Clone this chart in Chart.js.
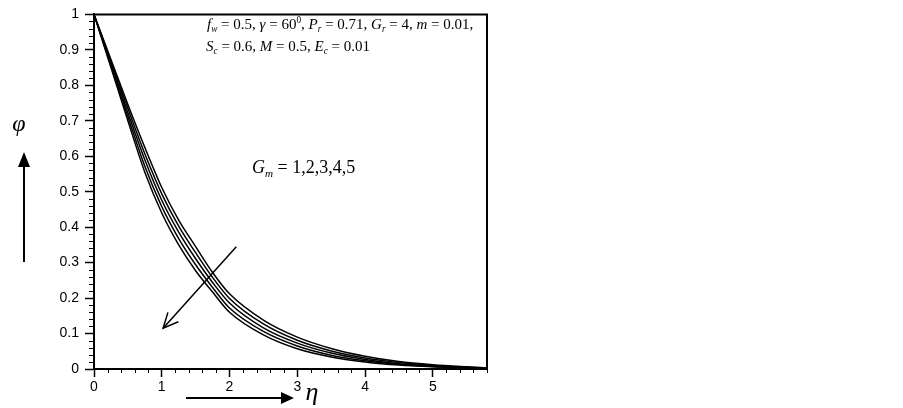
<!DOCTYPE html>
<html>
<head>
<meta charset="utf-8">
<script src="https://cdn.jsdelivr.net/npm/chart.js@4.4.0/dist/chart.umd.min.js"></script>
<style>
  html, body { margin: 0; padding: 0; background: #fff; }
  canvas { display: block; }
</style>
</head>
<body>
<canvas id="myChart" width="903" height="408"></canvas>
<script>
// eta values (x axis) and concentration profiles phi for Gm = 1..5
const eta = [0, 0.25, 0.5, 0.75, 1, 1.25, 1.5, 1.75, 2, 2.5, 3, 3.5, 4, 4.5, 5, 5.5, 5.8];
const phiGm1 = [1, 0.873, 0.746, 0.625, 0.512, 0.42, 0.345, 0.272, 0.212, 0.138, 0.09, 0.058, 0.036, 0.021, 0.012, 0.006, 0.003];
const phiGm2 = [1, 0.867, 0.735, 0.607, 0.494, 0.403, 0.328, 0.258, 0.199, 0.127, 0.081, 0.051, 0.031, 0.018, 0.01, 0.005, 0.002];
const phiGm3 = [1, 0.862, 0.723, 0.59, 0.476, 0.386, 0.311, 0.244, 0.186, 0.116, 0.073, 0.045, 0.027, 0.015, 0.008, 0.004, 0.002];
const phiGm4 = [1, 0.856, 0.712, 0.572, 0.458, 0.368, 0.294, 0.23, 0.172, 0.106, 0.065, 0.039, 0.023, 0.013, 0.007, 0.003, 0.001];
const phiGm5 = [1, 0.85, 0.7, 0.555, 0.44, 0.35, 0.277, 0.217, 0.16, 0.096, 0.057, 0.034, 0.02, 0.011, 0.006, 0.003, 0.001];
const gmValues = ["1", "2", "3", "4", "5"];

const SERIF = '"Liberation Serif", "DejaVu Serif", serif';
const SANS = '"Liberation Sans", Arial, sans-serif';

// draw text with italic / subscript / superscript pieces
function drawRich(ctx, x, y, parts, size) {
  let cx = x;
  parts.forEach(([t, s]) => {
    let f = size, dy = 0, style = "";
    if (s === "i") style = "italic ";
    if (s === "sub") { f = size * 0.62; dy = size * 0.22; style = "italic "; }
    if (s === "sup") { f = size * 0.62; dy = -size * 0.42; }
    ctx.font = style + f + "px " + SERIF;
    ctx.fillText(t, cx, y + dy);
    cx += ctx.measureText(t).width;
  });
}

function arrowHead(ctx, x1, y1, x2, y2, len, half, filled) {
  const a = Math.atan2(y2 - y1, x2 - x1);
  const p1 = [x2 - len * Math.cos(a) + half * Math.sin(a), y2 - len * Math.sin(a) - half * Math.cos(a)];
  const p2 = [x2 - len * Math.cos(a) - half * Math.sin(a), y2 - len * Math.sin(a) + half * Math.cos(a)];
  ctx.beginPath();
  if (filled) {
    ctx.moveTo(x2, y2); ctx.lineTo(p1[0], p1[1]); ctx.lineTo(p2[0], p2[1]); ctx.closePath(); ctx.fill();
  } else {
    ctx.moveTo(p1[0], p1[1]); ctx.lineTo(x2, y2); ctx.lineTo(p2[0], p2[1]); ctx.stroke();
  }
}

const decorations = {
  id: "decorations",
  afterDraw(chart) {
    const ctx = chart.ctx;
    const xs = chart.scales.x, ys = chart.scales.y;
    const a = chart.chartArea;
    ctx.save();
    ctx.strokeStyle = "#000";
    ctx.fillStyle = "#000";

    // frame (top + right)
    ctx.lineWidth = 2;
    ctx.beginPath();
    ctx.moveTo(a.left, a.top); ctx.lineTo(a.right, a.top); ctx.lineTo(a.right, a.bottom);
    ctx.stroke();

    // minor ticks
    ctx.lineWidth = 1;
    ctx.beginPath();
    for (let i = 0; i <= 50; i++) {
      if (i % 5 === 0) continue;
      const py = Math.round(ys.getPixelForValue(i / 50)) + 0.5;
      ctx.moveTo(a.left - 5, py); ctx.lineTo(a.left, py);
    }
    for (let i = 0; i <= 29; i++) {
      if (i % 5 === 0) continue;
      const px = Math.round(xs.getPixelForValue(i / 5)) + 0.5;
      ctx.moveTo(px, a.bottom); ctx.lineTo(px, a.bottom + 4);
    }
    ctx.stroke();

    // parameter text
    ctx.textBaseline = "alphabetic";
    ctx.textAlign = "left";
    drawRich(ctx, 207, 29, [["f", "i"], ["w", "sub"], [" = 0.5, ", "n"], ["\u03b3", "i"], [" = 60", "n"], ["0", "sup"],
      [", ", "n"], ["P", "i"], ["r", "sub"], [" = 0.71, ", "n"], ["G", "i"], ["r", "sub"], [" = 4, ", "n"],
      ["m", "i"], [" = 0.01,", "n"]], 15);
    drawRich(ctx, 206, 51, [["S", "i"], ["c", "sub"], [" = 0.6, ", "n"], ["M", "i"], [" = 0.5, ", "n"],
      ["E", "i"], ["c", "sub"], [" = 0.01", "n"]], 15);
    drawRich(ctx, 252, 173, [["G", "i"], ["m", "sub"], [" = " + gmValues.join(","), "n"]], 18);

    // diagonal arrow showing increasing Gm
    ctx.lineWidth = 1.5;
    const sx = xs.getPixelForValue(2.1), sy = ys.getPixelForValue(0.345);
    const tx = xs.getPixelForValue(1.02), ty = ys.getPixelForValue(0.115);
    ctx.beginPath(); ctx.moveTo(sx, sy); ctx.lineTo(tx, ty); ctx.stroke();
    arrowHead(ctx, sx, sy, tx, ty, 15, 7, false);

    // axis titles with arrows
    ctx.textAlign = "center";
    ctx.font = "italic 24px " + SERIF;
    ctx.fillText("\u03c6", 19, 131);
    ctx.lineWidth = 2;
    ctx.beginPath(); ctx.moveTo(24, 262); ctx.lineTo(24, 164); ctx.stroke();
    arrowHead(ctx, 24, 262, 24, 152, 15, 6, true);

    ctx.beginPath(); ctx.moveTo(186, 398); ctx.lineTo(284, 398); ctx.stroke();
    arrowHead(ctx, 186, 398, 294, 398, 13, 6, true);
    ctx.font = "italic 26px " + SERIF;
    ctx.fillText("\u03b7", 312, 400);
    ctx.restore();
  }
};

const series = [phiGm1, phiGm2, phiGm3, phiGm4, phiGm5];

new Chart(document.getElementById("myChart").getContext("2d"), {
  type: "line",
  data: {
    datasets: series.map((vals, k) => ({
      label: "Gm = " + gmValues[k],
      data: eta.map((e, i) => ({ x: e, y: vals[i] })),
      borderColor: "#000",
      borderWidth: 1.5,
      pointRadius: 0,
      fill: false,
      cubicInterpolationMode: "monotone",
    })),
  },
  options: {
    responsive: false,
    animation: false,
    devicePixelRatio: 1,
    layout: { padding: { left: 0, top: 12, right: 416, bottom: 0 } },
    plugins: { legend: { display: false }, tooltip: { enabled: false } },
    scales: {
      x: {
        type: "linear",
        min: 0,
        max: 5.8,
        afterFit: (s) => { s.height = 39; },
        ticks: { stepSize: 1, includeBounds: false, color: "#000", font: { family: SANS, size: 14 }, padding: 2, maxRotation: 0 },
        grid: { drawOnChartArea: false, tickLength: 8, color: "#000", tickWidth: 1.5 },
        border: { color: "#000", width: 2 },
      },
      y: {
        min: 0,
        max: 1,
        afterFit: (s) => { s.width = 94; },
        ticks: {
          stepSize: 0.1,
          color: "#000",
          font: { family: SANS, size: 14 },
          padding: 6,
          callback: (v) => String(Number(v.toFixed(1))),
        },
        grid: { drawOnChartArea: false, tickLength: 9, color: "#000", tickWidth: 1.5 },
        border: { color: "#000", width: 2 },
      },
    },
  },
  plugins: [decorations],
});
</script>
</body>
</html>
